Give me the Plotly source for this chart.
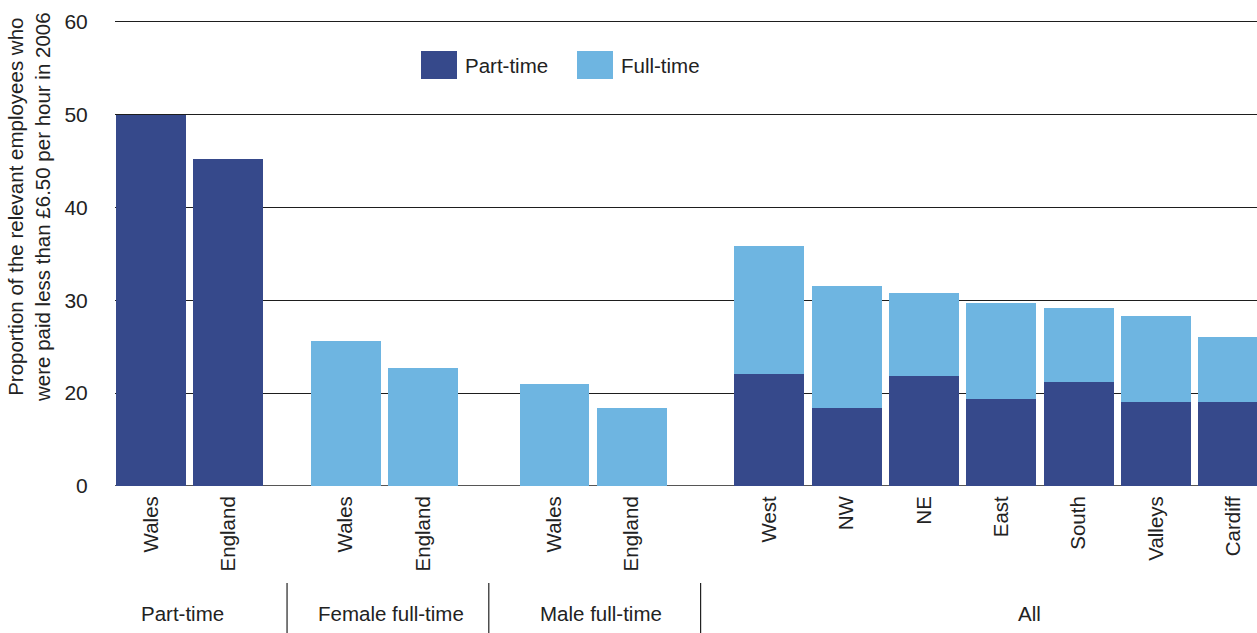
import plotly.graph_objects as go

# ---- data ----
groups = ["Part-time", "Female full-time", "Male full-time", "All"]
group_categories = [
    ["Wales", "England"],
    ["Wales", "England"],
    ["Wales", "England"],
    ["West", "NW", "NE", "East", "South", "Valleys", "Cardiff"],
]
part_time = [50.0, 45.2, None, None, None, None, 22.1, 18.35, 21.9, 19.4, 21.15, 19.1, 19.0]
full_time = [None, None, 25.6, 22.7, 21.0, 18.45, 35.8, 31.5, 30.75, 29.7, 29.15, 28.3, 26.0]
y_tick_vals = [10, 20, 30, 40, 50, 60]
y_tick_text = ["0", "20", "30", "40", "50", "60"]
y_title = "Proportion of the relevant employees who<br>were paid less than £6.50 per hour in 2006"

# ---- layout helpers ----
GROUP_START = [0.0, 2.52, 5.22, 8.0]
LABEL_SHIFT = [-0.09, 0.09, 0.1, 0.37]
DARK = "#36498B"
LIGHT = "#6EB5E1"
TXT = "#222222"
FONT = "Liberation Sans"
FS = 20.5
Y_MIN, Y_MAX = 10, 60.4

x_pos, x_lab = [], []
group_ranges = []
for g, cats in enumerate(group_categories):
    xs = [GROUP_START[g] + i * 1.0 for i in range(len(cats))]
    group_ranges.append((xs[0], xs[-1]))
    x_pos += xs
    x_lab += cats

fig = go.Figure()
fig.add_trace(go.Bar(x=x_pos, y=full_time, name="Full-time", marker=dict(color=LIGHT, line=dict(width=0)),
                     width=0.905, showlegend=False))
fig.add_trace(go.Bar(x=x_pos, y=part_time, name="Part-time", marker=dict(color=DARK, line=dict(width=0)),
                     width=0.905, showlegend=False))

W, H = 1257, 633
L, R, T, B = 115, 0, 18, 147
pw, ph = W - L - R, H - T - B


def px(xp):
    return (xp - L) / pw


def py(yp):
    return (H - B - yp) / ph


shapes = []
annotations = []
# baseline (axis at the lowest tick)
shapes.append(dict(type="line", xref="paper", yref="y", x0=0, x1=1, y0=Y_MIN, y1=Y_MIN,
                   line=dict(color="#1e1e1e", width=1.6), layer="below"))
# group separators and labels
for g in range(len(groups)):
    a, b = group_ranges[g]
    annotations.append(dict(x=(a + b) / 2 + LABEL_SHIFT[g], xref="x", y=py(613), yref="paper",
                            text=groups[g], showarrow=False, font=dict(size=FS, color=TXT, family=FONT),
                            xanchor="center", yanchor="middle"))
    if g > 0:
        sx = (group_ranges[g - 1][1] + a) / 2
        shapes.append(dict(type="line", xref="x", yref="paper", x0=sx, x1=sx, y0=py(583), y1=py(633),
                           line=dict(color="#222222", width=1.2)))

# manual legend with large swatches
for name, col, sx0, tx in [("Part-time", DARK, 421, 463), ("Full-time", LIGHT, 577, 619)]:
    shapes.append(dict(type="rect", xref="paper", yref="paper", x0=px(sx0), x1=px(sx0 + 36),
                       y0=py(79), y1=py(51), fillcolor=col, line=dict(width=0)))
    annotations.append(dict(x=px(tx), xref="paper", y=py(66), yref="paper", text=name, showarrow=False,
                            xanchor="left", yanchor="middle", font=dict(size=FS, color=TXT, family=FONT)))

# y-axis title
annotations.append(dict(x=px(29), xref="paper", y=py(207), yref="paper", text=y_title, showarrow=False,
                        textangle=-90, xanchor="center", yanchor="middle",
                        font=dict(size=FS, color=TXT, family=FONT)))

fig.update_layout(
    width=W, height=H,
    margin=dict(l=L, r=R, t=T, b=B, pad=0),
    paper_bgcolor="white", plot_bgcolor="white",
    barmode="overlay", bargap=0,
    shapes=shapes, annotations=annotations,
    font=dict(family=FONT, color=TXT, size=FS),
)
fig.update_xaxes(range=[(115 - 151) / 77.3, (1257 - 151) / 77.3], tickvals=x_pos, ticktext=x_lab,
                 tickangle=-90, showgrid=False, zeroline=False, showline=False,
                 ticks="outside", ticklen=1, tickcolor="white", tickfont=dict(size=FS, color=TXT, family=FONT))
fig.update_yaxes(range=[Y_MIN, Y_MAX], tickvals=y_tick_vals, ticktext=y_tick_text, showgrid=True,
                 gridcolor="#1e1e1e", gridwidth=1.4, zeroline=False, showline=False,
                 ticks="outside", ticklen=22, tickcolor="white", tickfont=dict(size=21, color=TXT, family=FONT))

fig.write_html("out.html", config={"displayModeBar": False},
               post_script="document.body.style.margin='0';document.body.style.overflow='hidden';")
